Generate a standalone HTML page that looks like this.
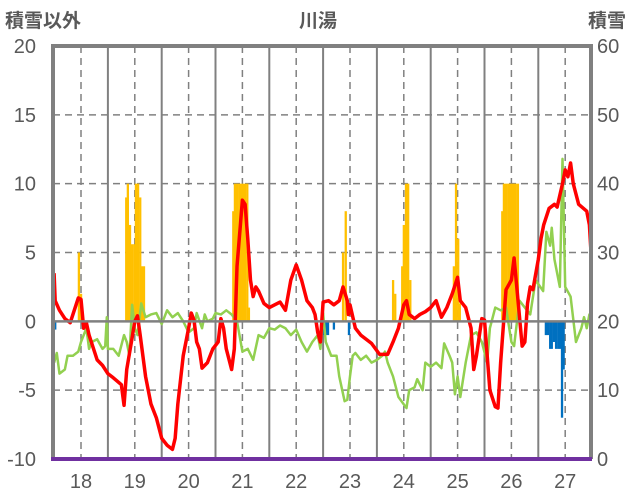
<!DOCTYPE html>
<html><head><meta charset="utf-8"><style>
body{margin:0;background:#fff;}
svg{display:block;font-family:"Liberation Sans","Noto Sans CJK JP",sans-serif;}
</style></head><body>
<svg id="chart" width="636" height="501" viewBox="0 0 636 501">
<text x="5" y="27" font-size="19" fill="#595959" font-weight="bold">積雪以外</text>
<text x="318" y="27" font-size="19" fill="#595959" text-anchor="middle" font-weight="bold">川湯</text>
<text x="588" y="27" font-size="19" fill="#595959" font-weight="bold">積雪</text>
<g id="grid"></g><g id="bars"></g><g id="lines"></g><g id="axes"></g>
</svg>
<script>
const yTicks=[20,15,10,5,0,-5,-10];
const yTicksRight=[60,50,40,30,20,10,0];
const years=[18,19,20,21,22,23,24,25,26,27];
const redT=[17.5,17.52,17.6,17.7,17.8,17.85,17.95,18.0,18.05,18.1,18.15,18.3,18.4,18.5,18.6,18.75,18.8,18.85,18.95,19.0,19.05,19.1,19.2,19.3,19.4,19.5,19.6,19.7,19.75,19.8,19.9,20.0,20.05,20.1,20.15,20.2,20.25,20.35,20.45,20.55,20.6,20.65,20.7,20.8,20.85,20.9,21.0,21.05,21.1,21.15,21.2,21.25,21.3,21.4,21.5,21.6,21.7,21.8,21.9,22.0,22.1,22.2,22.3,22.35,22.4,22.45,22.5,22.6,22.7,22.8,22.87,22.95,22.97,23.0,23.1,23.2,23.4,23.55,23.7,23.8,23.9,24.0,24.05,24.1,24.2,24.3,24.4,24.5,24.6,24.7,24.8,24.9,25.0,25.05,25.15,25.25,25.3,25.35,25.45,25.5,25.55,25.6,25.7,25.75,25.8,25.9,26.0,26.05,26.1,26.2,26.25,26.3,26.35,26.4,26.5,26.55,26.6,26.7,26.8,26.85,26.95,27.0,27.05,27.1,27.15,27.25,27.4,27.45,27.48];
const redV=[3.5,1.5,0.8,0.2,-0.1,0.5,1.7,1.6,-0.5,-0.1,-1,-2.8,-3.2,-3.8,-4.1,-4.6,-6.1,-3.5,-1.2,0,0.4,-1,-4,-6,-7,-8.5,-9,-9.3,-8.5,-6,-2.5,-0.5,0.6,0.1,-1.5,-2,-3.4,-3,-2,-1.5,0.2,-0.5,-2,-3.5,-2,4,8.8,8.5,6,3,1.8,2.5,2.2,1.3,1,1.2,1.4,0.8,3,4.1,3,1.5,1,0.5,-0.8,-1.5,1.4,1.5,1.2,1.5,2.5,1.5,0.5,1.2,-0.5,-1,-1.6,-2.4,-2.4,-1.5,-0.5,1.2,1.5,0.5,0.2,0.5,0.7,1.0,1.5,0.3,1,2,3.2,1.5,1.0,-0.5,-3.5,-2.5,0.2,0.1,-2.5,-5,-6.2,-6.3,-3,2.3,3,4.6,2.5,-1.8,-1.5,1.3,2.5,2.3,4.5,6,7,8.2,8.5,8.3,10,11,10.5,11.5,10,8.5,8,7,5];
const greenT=[17.5,17.55,17.6,17.7,17.75,17.85,17.95,18.0,18.1,18.15,18.2,18.3,18.4,18.45,18.48,18.5,18.6,18.7,18.8,18.85,18.9,18.95,19.0,19.05,19.12,19.2,19.3,19.4,19.5,19.6,19.7,19.8,19.9,20.0,20.1,20.15,20.25,20.3,20.35,20.45,20.5,20.6,20.7,20.8,20.9,21.0,21.1,21.2,21.3,21.4,21.5,21.6,21.7,21.8,21.9,22.0,22.1,22.2,22.3,22.4,22.45,22.5,22.55,22.6,22.65,22.75,22.8,22.9,22.95,23.0,23.05,23.1,23.2,23.3,23.4,23.5,23.6,23.65,23.7,23.8,23.9,24.05,24.1,24.2,24.25,24.35,24.4,24.5,24.6,24.7,24.75,24.85,24.9,24.95,25.0,25.05,25.15,25.25,25.35,25.45,25.55,25.6,25.7,25.8,25.9,26.0,26.05,26.15,26.25,26.35,26.45,26.59,26.65,26.72,26.75,26.8,26.9,26.95,27.0,27.1,27.2,27.3,27.35,27.4,27.45,27.48];
const greenV=[-3,-2.3,-3.8,-3.5,-2.5,-2.5,-2.2,-1.5,-0.5,-2,-1.5,-1.3,-2,-1.8,0.3,-2,-2,-2.5,-1,-1.5,-2.5,1.2,-0.5,-1,1.3,0.3,0.5,0.6,-0.2,0.8,0.3,0.6,0,-0.8,-0.5,0.6,-0.5,0.5,0,0.2,0.6,0.5,0.8,0.5,0,-2.2,-2,-2.8,-1,-1.2,-0.5,-0.6,-0.3,-0.5,-1,-0.6,-1.5,-2.2,-1.5,-1,-2,0.6,-1.5,-2,-2.5,-2.5,-4,-5.8,-5.7,-4,-2.5,-2.3,-2.8,-2.5,-3,-2.8,-2.5,-2.2,-3,-4,-5.5,-6.3,-5,-4.8,-4.2,-5,-3,-3.3,-3,-3.4,-1.6,-2.5,-3,-5.3,-4,-5.5,-3,-1,-0.8,-1.5,-3,-0.5,1.0,0.8,1,-1.5,-1.8,1.5,1.0,0.5,3,2.2,6.5,5.5,6.8,4.5,2.5,11.8,2.5,1.8,-1.5,-0.5,0.3,-0.5,0.5,0.6];
const snowT=[17.96,18.0,18.84,18.87,18.91,18.95,18.99,19.02,19.06,19.10,19.13,19.17,20.83,20.86,20.90,20.94,20.97,21.01,21.05,21.09,21.12,22.87,22.92,23.80,23.84,23.97,24.00,24.04,24.08,24.12,24.93,24.97,25.01,25.04,25.83,25.86,25.90,25.94,25.97,26.01,26.05,26.08,26.12];
const snowV=[5,2,9,10,7,5.6,5.6,10,10,9,4,4,8,10,10,10,10,10,10,10,1,5,8,3,2,4,7,10,10,3,4,10,6,1.3,8,10,10,10,10,10,10,10,10];
const negT=[17.52,22.52,22.55,22.59,22.70,22.98,26.64,26.68,26.72,26.75,26.79,26.83,26.87,26.90,26.94,26.97];
const negV=[-0.6,-1,-1,-1,-0.6,-1,-1,-1,-2,-2,-1.5,-2,-2,-2,-7,-3.5];

const NS='http://www.w3.org/2000/svg';
const X0=53,X1=591,Y0=46,Y1=459;
const xs=t=>81+(t-18)*53.8;
const ys=v=>Y1-(v+10)*(Y1-Y0)/30;
function mk(tag,attrs,parent){const e=document.createElementNS(NS,tag);for(const k in attrs)e.setAttribute(k,attrs[k]);document.getElementById(parent).appendChild(e);return e;}
// grid
yTicks.forEach((v,i)=>{
  if(v!==20&&v!==0&&v!==-10){const l=mk('line',{x1:X0,x2:X1,y1:ys(v),y2:ys(v),stroke:'#808080','stroke-width':1.5,'stroke-dasharray':'7,5'},'grid');
  
  }
  const t=mk('text',{x:36,y:ys(v)+7,'font-size':20,fill:'#595959','text-anchor':'end'},'grid');t.textContent=v;
  
  
  const r=mk('text',{x:597,y:ys(v)+7,'font-size':20,fill:'#595959'},'grid');r.textContent=yTicksRight[i];
  
  
});
years.forEach(y=>{
  const d=mk('line',{x1:xs(y),x2:xs(y),y1:Y0,y2:Y1,stroke:'#808080','stroke-width':1.5,'stroke-dasharray':'7,5'},'grid');
  
  
  if(y<27){const s=mk('line',{x1:xs(y+0.5),x2:xs(y+0.5),y1:Y0,y2:Y1,stroke:'#808080','stroke-width':2},'grid');
  
  }
  const t=mk('text',{x:xs(y),y:488,'font-size':20,fill:'#595959','text-anchor':'middle'},'grid');t.textContent=y;
  
  
});
// bars
snowT.forEach((t,i)=>{const v=snowV[i];const r=mk('rect',{x:xs(t)-1.1,width:2.3,y:ys(v),height:ys(0)-ys(v),fill:'#FFC000'},'bars');
  
  });
negT.forEach((t,i)=>{const v=negV[i];const r=mk('rect',{x:xs(t)-1.1,width:2.3,y:ys(0),height:ys(v)-ys(0),fill:'#0070C0'},'bars');
  
  });
// zero line
const z=mk('line',{x1:X0,x2:X1,y1:ys(0),y2:ys(0),stroke:'#808080','stroke-width':2.5},'axes');


// lines
const g=mk('polyline',{points:greenT.map((t,i)=>xs(t)+','+ys(greenV[i])).join(' '),fill:'none',stroke:'#92D050','stroke-width':2.5,'stroke-linejoin':'round'},'lines');


const rl=mk('polyline',{points:redT.map((t,i)=>xs(t)+','+ys(redV[i])).join(' '),fill:'none',stroke:'#FF0000','stroke-width':3.5,'stroke-linejoin':'round'},'lines');


// frame
const f=mk('path',{d:`M${X0},${Y1} L${X0},${Y0} L${X1},${Y0} L${X1},${Y1}`,fill:'none',stroke:'#808080','stroke-width':4},'axes');


const b=mk('line',{x1:X0-2,x2:X1+1,y1:Y1,y2:Y1,stroke:'#7030A0','stroke-width':4},'axes');


</script>
</body></html>
